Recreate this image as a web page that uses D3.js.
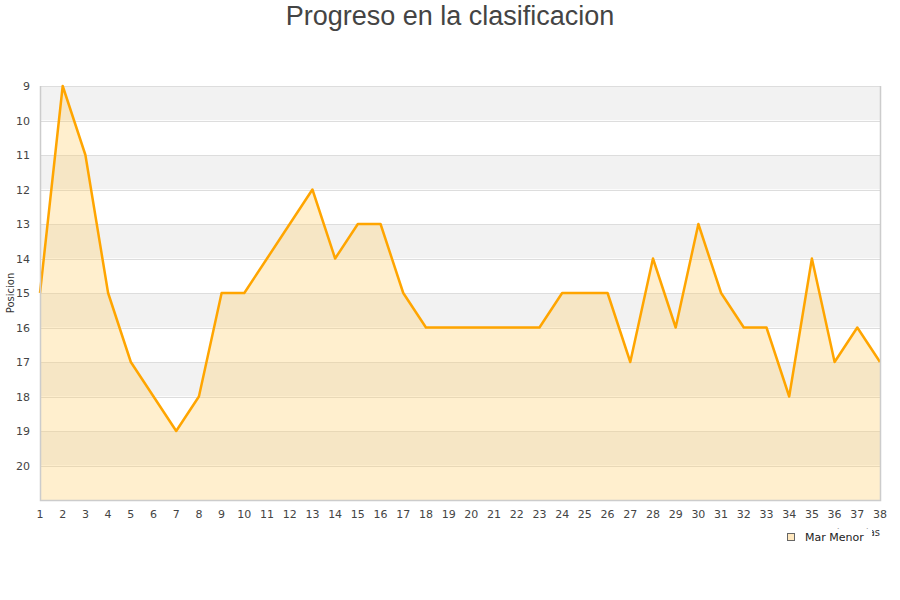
<!DOCTYPE html>
<html><head><meta charset="utf-8">
<script src="https://cdn.jsdelivr.net/npm/d3@7"></script>
<style>body{margin:0;background:#fff}svg{display:block}</style>
</head><body>
<svg id="c" width="900" height="600"></svg>
<script>
const jornadas = d3.range(1, 39);
const posiciones = [15,9,11,15,17,18,19,18,15,15,14,13,12,14,13,13,15,16,16,16,16,16,16,15,15,15,17,14,16,13,15,16,16,18,14,17,16,17];
const yTicks = [9,10,11,12,13,14,15,16,17,18,19,20];
const equipo = "Mar Menor";
const titulo = "Progreso en la clasificacion";

const svg = d3.select("#c");
const L = 40, R = 880, T = 86, B = 500;
const x = d3.scaleLinear().domain([1, 38]).range([L, R]);
const y = d3.scaleLinear().domain([9, 21]).range([T, B]);

// bands
const bands = d3.range(9, 21);
svg.append("g").selectAll("rect").data(bands).join("rect")
  .attr("x", L).attr("width", R - L)
  .attr("y", d => y(d)).attr("height", d => y(d + 1) - y(d))
  .attr("fill", d => (d % 2 === 1) ? "#f2f2f2" : "#ffffff");

// grid
svg.append("g").selectAll("line").data(d3.range(9, 22)).join("line")
  .attr("x1", L).attr("x2", R)
  .attr("y1", d => Math.round(y(d)) + 0.5).attr("y2", d => Math.round(y(d)) + 0.5)
  .attr("stroke", "#dddddd").attr("stroke-width", 1);

// area
const data = jornadas.map((j, i) => ({j, p: posiciones[i]}));
svg.append("path").datum(data)
  .attr("d", d3.area().x(d => x(d.j)).y0(y(21)).y1(d => y(d.p)))
  .attr("fill", "#ffcc66").attr("fill-opacity", 0.32);

svg.append("path").datum(data)
  .attr("d", d3.line().x(d => x(d.j)).y(d => y(d.p)))
  .attr("fill", "none").attr("stroke", "#ffa500").attr("stroke-width", 2.5)
  .attr("stroke-linejoin", "round");

// frame
svg.append("path")
  .attr("d", `M${L+0.5},${T}V${B+0.5}H${R+0.5}V${T}`)
  .attr("fill", "none").attr("stroke", "#cccccc").attr("stroke-width", 1.5);

// y axis labels
svg.append("g").selectAll("text").data(yTicks).join("text")
  .attr("x", 30).attr("y", d => y(d) + 4)
  .attr("text-anchor", "end")
  .attr("font-family", "DejaVu Sans").attr("font-size", 11).attr("fill", "#444")
  .text(d => d);

// x axis labels
svg.append("g").selectAll("text").data(jornadas).join("text")
  .attr("x", d => x(d)).attr("y", 518)
  .attr("text-anchor", "middle")
  .attr("font-family", "DejaVu Sans").attr("font-size", 11).attr("fill", "#444")
  .text(d => d);

// axis titles
svg.append("text").attr("transform", "translate(14,293) rotate(-90)")
  .attr("text-anchor", "middle")
  .attr("font-family", "DejaVu Sans").attr("font-size", 10).attr("fill", "#333")
  .text("Posicion");
svg.append("text").attr("x", 880).attr("y", 536)
  .attr("text-anchor", "end")
  .attr("font-family", "DejaVu Sans").attr("font-size", 10).attr("fill", "#333")
  .text("Jornadas");

// legend (covers x axis title, as in the reference)
svg.append("rect").attr("x", 776).attr("y", 528.5).attr("width", 96).attr("height", 22).attr("fill", "#fff");
svg.append("rect").attr("x", 787.5).attr("y", 533.5).attr("width", 7).attr("height", 7)
  .attr("fill", "#ffe8bf").attr("stroke", "#666").attr("stroke-width", 1);
svg.append("text").attr("x", 805).attr("y", 541)
  .attr("font-family", "DejaVu Sans").attr("font-size", 11).attr("fill", "#222")
  .text(equipo);

// title
svg.append("text").attr("x", 450).attr("y", 25)
  .attr("text-anchor", "middle")
  .attr("font-family", "Liberation Sans, Arial").attr("font-size", 27).attr("fill", "#444")
  .text(titulo);
</script>
</body></html>
